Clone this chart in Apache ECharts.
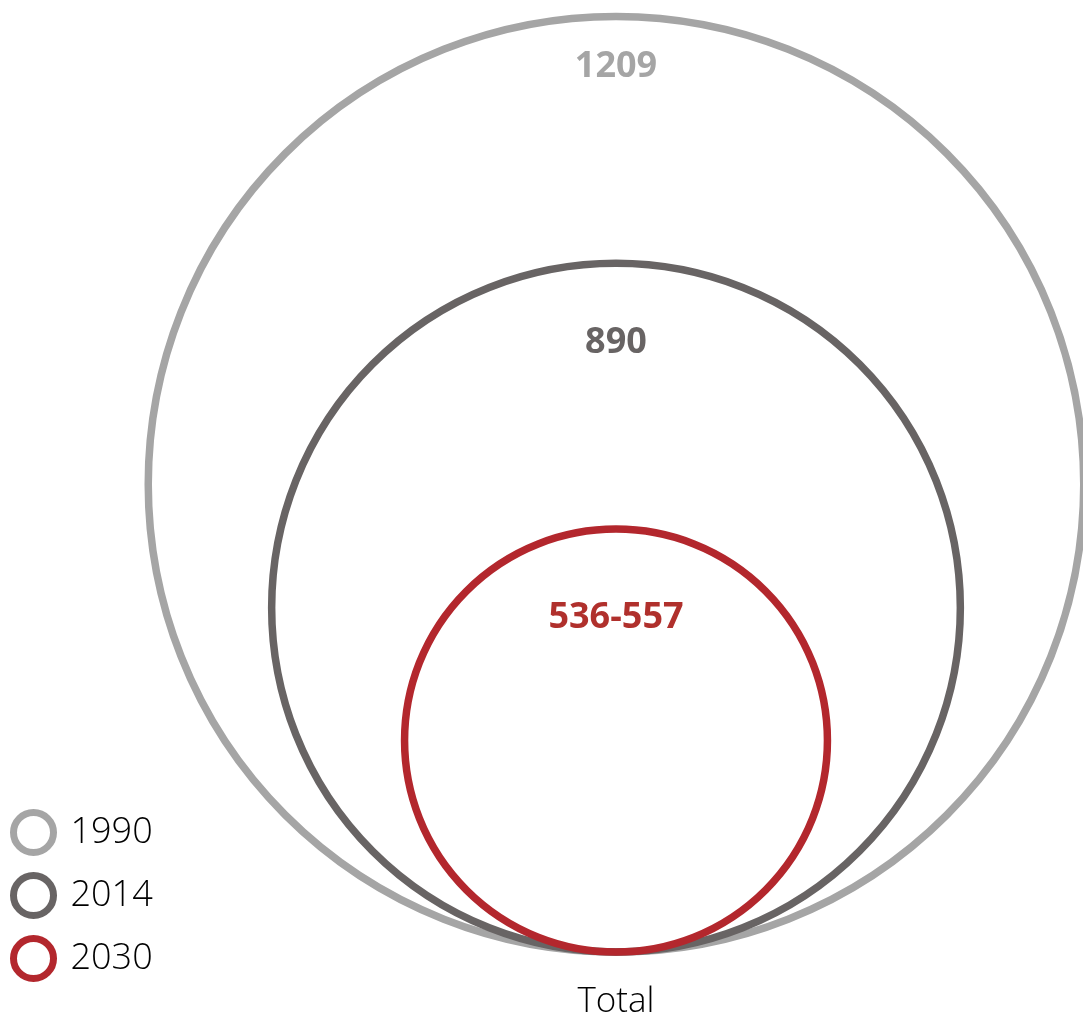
<!DOCTYPE html>
<html>
<head>
<meta charset="utf-8">
<script src="https://cdn.jsdelivr.net/npm/echarts@6/dist/echarts.min.js"></script>
<style>
  html, body { margin: 0; padding: 0; background: #ffffff; }
  #chart { width: 1083px; height: 1018px; }
</style>
</head>
<body>
<div id="chart"></div>
<script>
// ---- data ----
const categories = ['Total'];
const years = ['1990', '2014', '2030'];
const totals = [1209, 890, 546.5];           // 2030: midpoint of 536-557
const valueLabels = ['1209', '890', '536-557'];

// ---- styling / layout ----
const colors = ['#A5A5A5', '#686464', '#B3272D'];
const labelColors = ['#A5A5A5', '#686464', '#B0302C'];
const labelOffsets = [50, 79, 89];   // px below circle top
const W = 1083, H = 1018;
const CX = 616, BASE_Y = 952;
const PX_PER_UNIT = 0.3869;

const chart = echarts.init(document.getElementById('chart'), null, { renderer: 'canvas' });

function makeSeries(i) {
  return {
    type: 'custom',
    name: years[i],
    coordinateSystem: 'cartesian2d',
    z: 2 + i,
    silent: true,
    data: [[0, totals[i]]],
    renderItem: function (params, api) {
      const v = api.value(1);
      const c = api.coord([0, v]);
      const r = api.size([v, v])[1];
      const children = [
        {
          type: 'circle',
          shape: { cx: c[0], cy: c[1], r: r },
          style: { fill: 'none', stroke: colors[i], lineWidth: 7.5 }
        },
        {
          type: 'text',
          style: {
            text: valueLabels[i],
            x: c[0],
            y: c[1] - r + labelOffsets[i],
            align: 'center',
            verticalAlign: 'middle',
            fontFamily: 'Open Sans',
            fontWeight: 'bold',
            fontSize: 36,
            fill: labelColors[i]
          }
        }
      ];
      if (i === 0) {
        const b = api.coord([0, 0]);
        children.push({
          type: 'text',
          style: {
            text: categories[0],
            x: b[0],
            y: b[1] + 50,
            align: 'center',
            verticalAlign: 'middle',
            fontFamily: 'Open Sans',
            fontWeight: 300,
            fontSize: 35,
            fill: '#000000'
          }
        });
      }
      return { type: 'group', children: children };
    }
  };
}

const option = {
  backgroundColor: '#ffffff',
  animation: false,
  grid: { left: 0, right: 0, top: 0, bottom: H - BASE_Y, containLabel: false },
  xAxis: {
    type: 'value',
    min: -CX / PX_PER_UNIT,
    max: (W - CX) / PX_PER_UNIT,
    show: false
  },
  yAxis: {
    type: 'value',
    min: 0,
    max: BASE_Y / PX_PER_UNIT,
    show: false
  },
  legend: {
    orient: 'vertical',
    left: 10,
    top: 809,
    padding: 0,
    itemWidth: 40,
    itemHeight: 40,
    itemGap: 16,
    icon: 'circle',
    selectedMode: false,
    textStyle: {
      fontFamily: 'Open Sans',
      fontWeight: 300,
      fontSize: 36,
      lineHeight: 40,
      color: '#000000',
      padding: [0, 0, 0, 12]
    },
    data: years.map((y, i) => ({
      name: y,
      icon: 'circle',
      itemStyle: { color: '#ffffff', borderColor: colors[i], borderWidth: 7 }
    }))
  },
  series: years.map((y, i) => makeSeries(i))
};

chart.setOption(option);
</script>
</body>
</html>
